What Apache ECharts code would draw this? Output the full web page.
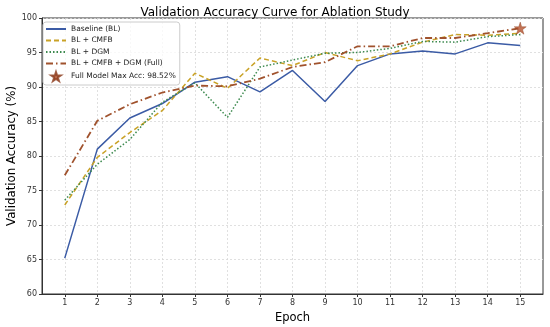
<!DOCTYPE html>
<html><head><meta charset="utf-8">
<script src="https://cdn.jsdelivr.net/npm/echarts@6/dist/echarts.min.js"></script>
<style>html,body{margin:0;padding:0;background:#fff}#c{width:550px;height:327px}</style>
</head><body><div id="c"></div>
<script>
const epochs = [1,2,3,4,5,6,7,8,9,10,11,12,13,14,15];
const baseline = [65.2,81.0,85.5,87.6,90.7,91.5,89.3,92.4,87.9,93.1,94.8,95.2,94.8,96.4,96.0];
const cmfb     = [72.9,79.8,83.4,86.6,92.0,89.8,94.2,93.1,95.0,93.8,94.8,96.5,97.6,97.5,97.8];
const dgm      = [73.6,78.8,82.4,87.8,90.6,85.6,92.9,93.9,94.9,95.0,95.6,96.6,96.5,97.3,97.6];
const full     = [77.2,85.1,87.5,89.2,90.2,90.1,91.2,92.9,93.6,95.9,95.9,97.1,97.1,97.8,98.52];
const yTicks = [60,65,70,75,80,85,90,95,100];
const maxLabel = 'Full Model Max Acc: 98.52%';
const maxPoint = [15, 98.52];

const pair = a => a.map((v,i)=>[epochs[i], v]);
const FONT = 'DejaVu Sans';
const star = 'path://M50,0 L61.8,35.1 L98.9,35.1 L68.9,56.9 L80.3,92.1 L50,70.4 L19.7,92.1 L31.1,56.9 L1.1,35.1 L38.2,35.1 Z';
const noSym = {opacity:0};

const chart = echarts.init(document.getElementById('c'), null, {renderer:'canvas'});
chart.setOption({
  animation:false,
  textStyle:{fontFamily:FONT},
  title:{text:'Validation Accuracy Curve for Ablation Study', left:'center', top:2,
    textStyle:{fontSize:12, fontWeight:'normal', color:'#000', fontFamily:FONT}},
  grid:{left:42, right:7, top:18, bottom:33, outerBoundsMode:'none', containLabel:false,
    show:true, borderColor:'#333', borderWidth:1, backgroundColor:'transparent'},
  legend:{orient:'vertical', left:43, top:22, itemWidth:20, itemHeight:9, itemGap:3.5,
    padding:[3,4,3,2], backgroundColor:'rgba(255,255,255,0.8)', borderColor:'#ccc', borderWidth:1, borderRadius:3,
    textStyle:{fontSize:7.5, color:'#222', fontFamily:FONT},
    data:[{name:'Baseline (BL)', itemStyle:noSym},{name:'BL + CMFB', itemStyle:noSym},{name:'BL + DGM', itemStyle:noSym},
          {name:'BL + CMFB + DGM (Full)', itemStyle:noSym}, {name:maxLabel}]},
  xAxis:{type:'value', min:0.3, max:15.7,
    name:'Epoch', nameLocation:'middle', nameGap:16, nameTextStyle:{fontSize:11.5, color:'#000', fontFamily:FONT},
    axisLine:{show:true, onZero:false, lineStyle:{color:'#333'}},
    axisTick:{show:true, length:3, lineStyle:{color:'#333'}, customValues:epochs},
    axisLabel:{fontSize:8, color:'#333', margin:5, customValues:epochs, fontFamily:FONT},
    splitLine:{show:true, lineStyle:{color:'#d9d9d9', type:[2,2], width:0.8}}},
  yAxis:{type:'value', min:60, max:100, interval:5,
    name:'Validation Accuracy (%)', nameLocation:'middle', nameGap:24, nameMoveOverlap:false,
    nameTextStyle:{fontSize:11.8, color:'#000', fontFamily:FONT},
    axisLine:{show:true, lineStyle:{color:'#333'}},
    axisTick:{show:true, length:3, lineStyle:{color:'#333'}},
    axisLabel:{fontSize:8, color:'#333', margin:5, fontFamily:FONT},
    splitLine:{show:true, lineStyle:{color:'#d9d9d9', type:[2,2], width:0.8}}},
  series:[
    {name:'Baseline (BL)', type:'line', data:pair(baseline), showSymbol:false, symbol:'none',
      lineStyle:{color:'#3b5ba5', width:1.5}, itemStyle:{color:'#3b5ba5'}},
    {name:'BL + CMFB', type:'line', data:pair(cmfb), showSymbol:false, symbol:'none',
      lineStyle:{color:'#c9a227', width:1.5, type:[5,3]}, itemStyle:{color:'#c9a227'}},
    {name:'BL + DGM', type:'line', data:pair(dgm), showSymbol:false, symbol:'none',
      lineStyle:{color:'#3d8a4f', width:1.5, type:[1.5,2]}, itemStyle:{color:'#3d8a4f'}},
    {name:'BL + CMFB + DGM (Full)', type:'line', data:pair(full), showSymbol:false, symbol:'none',
      lineStyle:{color:'#a0522d', width:1.8, type:[7,3,1.5,3]}, itemStyle:{color:'#a0522d'}},
    {name:maxLabel, type:'scatter', data:[maxPoint], symbol:star, symbolSize:12, z:5,
      itemStyle:{color:'#b5532e', borderColor:'#8b3a1a', borderWidth:0.5}}
  ]
});
</script></body></html>
